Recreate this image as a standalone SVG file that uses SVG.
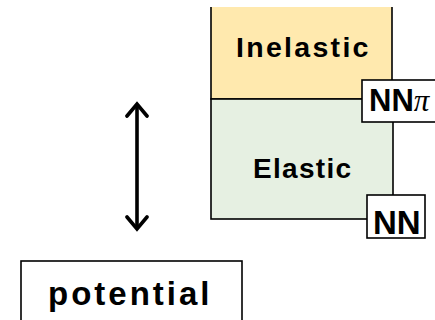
<svg xmlns="http://www.w3.org/2000/svg" width="435" height="320" viewBox="0 0 435 320">
<style>
.lbl{font-family:"Liberation Sans",Arial,sans-serif;font-weight:bold;fill:#000}
.box{stroke:#000;stroke-width:1.6}
</style>
<defs>
<marker id="chev" viewBox="0 0 24 24" markerWidth="24" markerHeight="24" refX="20" refY="12" orient="auto-start-reverse" markerUnits="userSpaceOnUse">
<path d="M8,2 L20,12 L8,22" fill="none" stroke="#000" stroke-width="3.6" stroke-linecap="round" stroke-linejoin="miter"/>
</marker>
</defs>
<g id="inelastic">
<rect x="211" y="7" width="181" height="92" fill="#FFE9AE" stroke="none"/>
<path class="box" d="M211,7 V99 H392 V7" fill="none"/>
<text class="lbl" x="236" y="57" font-size="28.5" letter-spacing="2.3">Inelastic</text>
</g>
<g id="elastic">
<rect class="box" x="211" y="99" width="182" height="120" fill="#E6F0E2"/>
<text class="lbl" x="253" y="178" font-size="28" letter-spacing="1.3">Elastic</text>
</g>
<g id="nnpi">
<rect class="box" x="362" y="80" width="80" height="42" fill="#fff"/>
<text class="lbl" x="369" y="111" font-size="31">NN<tspan font-family="'Liberation Serif',serif" font-weight="normal" font-style="italic">π</tspan></text>
</g>
<g id="nn">
<rect class="box" x="367" y="195" width="58" height="43" fill="#fff"/>
<text class="lbl" x="373" y="234" font-size="33">NN</text>
</g>
<g id="potential">
<rect class="box" x="21" y="261" width="221" height="70" fill="#fff"/>
<text class="lbl" x="48" y="305" font-size="33" letter-spacing="3">potential</text>
</g>
<g id="connectors">
<line x1="137" y1="104" x2="137" y2="229" stroke="#000" stroke-width="3.6" marker-start="url(#chev)" marker-end="url(#chev)"/>
</g>
</svg>
